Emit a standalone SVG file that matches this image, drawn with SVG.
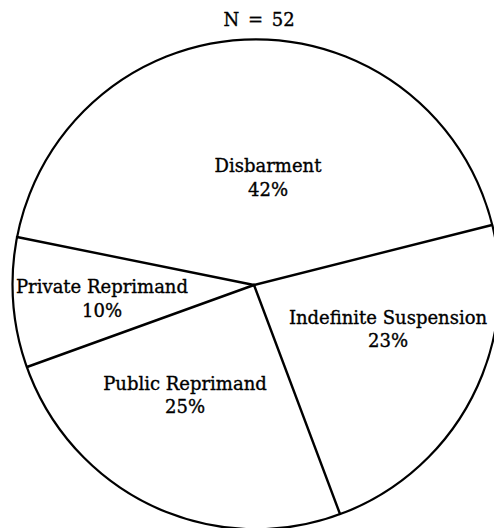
<svg xmlns="http://www.w3.org/2000/svg" width="494" height="528" viewBox="0 0 494 528">
<style>
.t{font-family:"DejaVu Serif","Liberation Serif",serif;font-size:18px;fill:#000;stroke:#000;stroke-width:0.35;text-anchor:middle}
.edge{stroke:#000;stroke-width:2.4;fill:none;stroke-linecap:round}
</style>
<rect width="494" height="528" fill="#fff"/>
<text class="t" x="259" y="26" word-spacing="3">N = 52</text>
<g id="pie">
<ellipse cx="256" cy="284.3" rx="243.5" ry="245" fill="none" stroke="#000" stroke-width="2.2"/>
</g>
<g id="connectors">
<line class="edge" x1="254" y1="285" x2="17" y2="237"/>
<line class="edge" x1="254" y1="285" x2="27" y2="367"/>
<line class="edge" x1="254" y1="285" x2="492" y2="225"/>
<line class="edge" x1="254" y1="285" x2="340" y2="514"/>
</g>
<g id="disbarment">
<text class="t" x="268" y="172">Disbarment</text>
<text class="t" x="268" y="196">42%</text>
</g>
<g id="private">
<text class="t" x="102" y="293">Private Reprimand</text>
<text class="t" x="102" y="317">10%</text>
</g>
<g id="indefinite">
<text class="t" x="388" y="324">Indefinite Suspension</text>
<text class="t" x="388" y="347">23%</text>
</g>
<g id="public">
<text class="t" x="185" y="390">Public Reprimand</text>
<text class="t" x="185" y="413">25%</text>
</g>
</svg>
